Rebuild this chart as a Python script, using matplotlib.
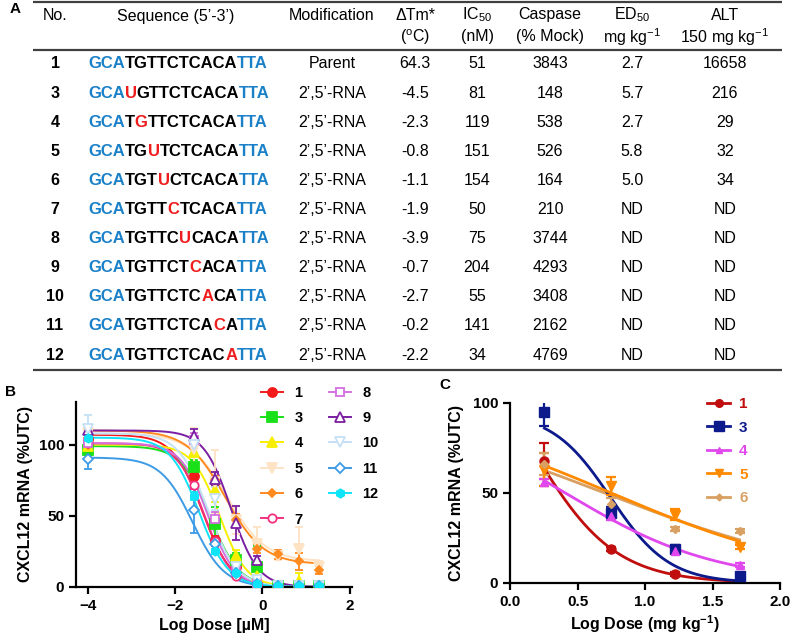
import numpy as np
import matplotlib
matplotlib.use('Agg')
import matplotlib.pyplot as plt
from matplotlib.lines import Line2D

plt.rcParams['font.family'] = ['Liberation Sans', 'DejaVu Sans']
plt.rcParams['mathtext.default'] = 'regular'

# ------------------------- Table A data -------------------------
compound_ids = ['1', '3', '4', '5', '6', '7', '8', '9', '10', '11', '12']
sequences = ['GCATGTTCTCACATTA', 'GCAUGTTCTCACATTA', 'GCATGTTCTCACATTA',
             'GCATGUTCTCACATTA', 'GCATGTUCTCACATTA', 'GCATGTTCTCACATTA',
             'GCATGTTCUCACATTA', 'GCATGTTCTCACATTA', 'GCATGTTCTCACATTA',
             'GCATGTTCTCACATTA', 'GCATGTTCTCACATTA']
mod_index = [None, 3, 4, 5, 6, 7, 8, 9, 10, 11, 12]
modifications = ['Parent'] + ['2\u2019,5\u2019-RNA'] * 10
delta_tm = ['64.3', '-4.5', '-2.3', '-0.8', '-1.1', '-1.9', '-3.9', '-0.7', '-2.7', '-0.2', '-2.2']
ic50 = ['51', '81', '119', '151', '154', '50', '75', '204', '55', '141', '34']
caspase = ['3843', '148', '538', '526', '164', '210', '3744', '4293', '3408', '2162', '4769']
ed50 = ['2.7', '5.7', '2.7', '5.8', '5.0', 'ND', 'ND', 'ND', 'ND', 'ND', 'ND']
alt = ['16658', '216', '29', '32', '34', 'ND', 'ND', 'ND', 'ND', 'ND', 'ND']
headers_1 = ['No.', 'Sequence (5\u2019-3\u2019)', 'Modification', '\u0394Tm*', 'IC$_{50}$',
             'Caspase', 'ED$_{50}$', 'ALT']
headers_2 = ['', '', '', '($^{o}$C)', '(nM)', '(% Mock)', 'mg kg$^{-1}$', '150 mg kg$^{-1}$']

# ------------------------- Panel B data -------------------------
b_labels = ['1', '3', '4', '5', '6', '7', '8', '9', '10', '11', '12']
b_dose = [-4.0, -1.56, -1.08, -0.60, -0.13, 0.35, 0.83, 1.30]
b1 = [104, 78, 33, 14, 2, 1, 1, 1]
b3 = [96, 84, 44, 19, 14, 1, 1, 1]
b4 = [99, 95, 68, 22, 8, 1, 4, 1]
b5 = [108, 97, 74, 47, 30, 22, 27, 14]
b6 = [100, 103, 75, 47, 27, 23, 18, 12]
b7 = [101, 72, 32, 8, 2, 1, 1, 1]
b8 = [101, 103, 48, 11, 3, 1, 1, 1]
b9 = [110, 106, 76, 45, 19, 1, 1, 1]
b10 = [111, 100, 62, 14, 5, 1, 1, 1]
b11 = [90, 54, 30, 10, 2, 1, 1, 1]
b12 = [105, 64, 25, 10, 2, 1, 1, 1]
b1_err = [3, 3, 3, 3, 1, 1, 1, 1]
b3_err = [3, 5, 12, 5, 15, 1, 1, 1]
b4_err = [3, 8, 8, 4, 4, 1, 6, 1]
b5_err = [5, 15, 22, 10, 12, 3, 15, 4]
b6_err = [3, 3, 3, 4, 3, 3, 6, 3]
b7_err = [3, 3, 3, 2, 1, 1, 1, 1]
b8_err = [3, 5, 5, 3, 1, 1, 1, 1]
b9_err = [3, 5, 5, 12, 3, 1, 1, 1]
b10_err = [10, 5, 8, 5, 3, 1, 1, 1]
b11_err = [7, 16, 4, 3, 1, 1, 1, 1]
b12_err = [3, 3, 2, 2, 1, 1, 1, 1]
# fitted 4-parameter logistic parameters (top, bottom, log mid, hill)
b_top = [107, 99, 100, 108, 110, 101, 101, 110, 108, 91, 105]
b_bottom = [0, 0, 0, 18, 16, 0, 0, 0, 0, 0, 0]
b_mid = [-1.38, -1.2, -0.98, -0.8, -0.85, -1.33, -1.25, -0.72, -1.25, -1.6, -1.45]
b_hill = [1.3, 1.3, 1.4, 1.0, 1.0, 1.4, 1.4, 1.4, 1.3, 1.2, 1.3]

# ------------------------- Panel C data -------------------------
c_labels = ['1', '3', '4', '5', '6']
c_dose = [0.255, 0.748, 1.22, 1.70]
c1 = [68, 19, 5, 4]
c3 = [95, 39, 19, 4]
c4 = [56, 37, 18, 10]
c5 = [63, 54, 38, 20]
c6 = [66, 44, 30, 29]
c1_err = [10, 1, 1, 1]
c3_err = [8, 3, 2, 1]
c4_err = [2, 2, 2, 1]
c5_err = [9, 5, 3, 1]
c6_err = [6, 3, 1, 1]
c_top = [150, 95, 100, 100, 100]
c_bottom = [0, 0, 0, 0, 0]
c_mid = [0.16, 0.745, 0.41, 0.75, 0.70]
c_hill = [1.42, 2.0, 0.77, 0.55, 0.5]

# ------------------------- styles -------------------------
W, H = 791, 639
fig = plt.figure(figsize=(W / 100, H / 100), dpi=100)

tab = fig.add_axes([0, 0, 1, 1])
tab.set_xlim(0, W)
tab.set_ylim(H, 0)
tab.axis('off')

BLUE = '#1a80c8'
RED = '#ee1c1c'
TFS = 11.5

# rules
for yy in (1.5, 50, 370):
    tab.plot([33, 782], [yy, yy], color='#404040', lw=1.6, solid_capstyle='butt')

col_x = [55, 176, 332, 415, 477, 550, 632, 725]
for cx, h1, h2 in zip(col_x, headers_1, headers_2):
    if h2:
        tab.text(cx, 15, h1, ha='center', va='center', fontsize=TFS)
        tab.text(cx, 37, h2, ha='center', va='center', fontsize=TFS)
    else:
        tab.text(cx, 16, h1, ha='center', va='center', fontsize=TFS)
tab.text(15, 9, 'A', ha='center', va='center', fontsize=11, fontweight='bold')

row_y0, row_dy = 64, 29.1


def seq_segments(seq, red):
    segs = []
    for i, ch in enumerate(seq):
        if red is not None and i == red:
            c = RED
        elif i < 3 or i >= len(seq) - 3:
            c = BLUE
        else:
            c = 'black'
        if segs and segs[-1][1] == c:
            segs[-1][0] += ch
        else:
            segs.append([ch, c])
    return segs


for r, cid in enumerate(compound_ids):
    y = row_y0 + r * row_dy
    tab.text(col_x[0], y, cid, ha='center', va='center', fontsize=TFS, fontweight='bold')
    segs = seq_segments(sequences[r], mod_index[r])
    t = tab.text(88, y, segs[0][0], color=segs[0][1], ha='left', va='center',
                 fontsize=12, fontweight='bold')
    for s, c in segs[1:]:
        t = tab.annotate(s, xy=(1, 0), xycoords=t, color=c, ha='left', va='bottom',
                         fontsize=12, fontweight='bold')
    for cx, val in zip(col_x[2:], [modifications[r], delta_tm[r], ic50[r], caspase[r],
                                   ed50[r], alt[r]]):
        tab.text(cx, y, val, ha='center', va='center', fontsize=TFS)


def style_axes(ax):
    for s in ('top', 'right'):
        ax.spines[s].set_visible(False)
    for s in ('left', 'bottom'):
        ax.spines[s].set_linewidth(1.6)
    ax.tick_params(width=1.6, length=5, labelsize=11)
    for lab in ax.get_xticklabels() + ax.get_yticklabels():
        lab.set_fontweight('bold')


def four_pl(x, top, bottom, mid, hill):
    return bottom + (top - bottom) / (1 + 10 ** ((x - mid) * hill))


# ------------------------- Panel B -------------------------
axB = fig.add_axes([76 / W, (H - 587) / H, 276 / W, 185 / H])
b_means = [b1, b3, b4, b5, b6, b7, b8, b9, b10, b11, b12]
b_errs = [b1_err, b3_err, b4_err, b5_err, b6_err, b7_err, b8_err, b9_err, b10_err, b11_err, b12_err]
b_colors = ['#f51a1a', '#19e019', '#f7ef00', '#fde2c4', '#ff8a1e', '#f2307e', '#d36fe0',
            '#7b1fa2', '#c4e0f6', '#3d9be6', '#10e4f8']
b_markers = ['o', 's', '^', 'v', 'D', 'o', 's', '^', 'v', 'D', 'h']
b_ms = [6.5, 7, 6.5, 6.5, 4, 6, 6, 6.5, 6.5, 5, 6]
b_open = [False, False, False, False, False, True, True, True, True, True, False]

xs = np.linspace(b_dose[0], b_dose[-1], 400)
handles_b = []
for i in range(len(b_labels)):
    col = b_colors[i]
    fc = 'white' if b_open[i] else col
    axB.plot(xs, four_pl(xs, b_top[i], b_bottom[i], b_mid[i], b_hill[i]), color=col, lw=1.4, zorder=2)
    axB.errorbar(b_dose, b_means[i], yerr=b_errs[i], fmt=b_markers[i], color=col, mfc=fc,
                 mec=col, mew=1.3, ms=b_ms[i], capsize=3, elinewidth=1.3, capthick=1.3, zorder=3)
    handles_b.append(Line2D([], [], color=col, lw=1.4, marker=b_markers[i], mfc=fc, mec=col,
                            mew=1.3, ms=b_ms[i]))
axB.set_xlim(-4.27, 2.05)
axB.set_ylim(0, 130)
axB.set_xticks([-4, -2, 0, 2])
axB.set_yticks([0, 50, 100])
style_axes(axB)
axB.set_xlabel('Log Dose [\u00b5M]', fontsize=11.5, fontweight='bold', labelpad=4)
axB.set_ylabel('CXCL12 mRNA (%UTC)', fontsize=11.5, fontweight='bold', labelpad=4)
legB = axB.legend(handles_b, b_labels, ncol=2, loc='upper left', bbox_to_anchor=(0.67, 1.088),
                  frameon=False, borderpad=0, borderaxespad=0, handlelength=1.5,
                  handletextpad=0.8, columnspacing=1.8, labelspacing=0.78,
                  prop={'weight': 'bold', 'size': 10.5})
fig.text(5 / W, 1 - 392 / H, 'B', fontsize=11, fontweight='bold', ha='left', va='center')

# ------------------------- Panel C -------------------------
axC = fig.add_axes([510 / W, (H - 583) / H, 270 / W, 180 / H])
c_means = [c1, c3, c4, c5, c6]
c_errs = [c1_err, c3_err, c4_err, c5_err, c6_err]
c_colors = ['#c00d0d', '#0c1a8c', '#e048ee', '#ff8a00', '#d8a062']
c_markers = ['o', 's', '^', 'v', 'D']
c_ms = [6.5, 7.5, 6, 7, 4.5]
xc = np.linspace(c_dose[0], c_dose[-1], 300)
handles_c = []
for i in range(len(c_labels)):
    col = c_colors[i]
    axC.plot(xc, four_pl(xc, c_top[i], c_bottom[i], c_mid[i], c_hill[i]), color=col, lw=2.0,
             zorder=2 if i != 4 else 1.5)
    axC.errorbar(c_dose, c_means[i], yerr=c_errs[i], fmt=c_markers[i], color=col, mfc=col,
                 mec=col, ms=c_ms[i], capsize=3.5, elinewidth=1.6, capthick=1.6, zorder=3)
    handles_c.append(Line2D([], [], color=col, lw=2.0, marker=c_markers[i], ms=c_ms[i] - 1))
axC.set_xlim(0, 2.0)
axC.set_ylim(0, 100)
axC.set_xticks([0.0, 0.5, 1.0, 1.5, 2.0])
axC.set_xticklabels(['0.0', '0.5', '1.0', '1.5', '2.0'])
axC.set_yticks([0, 50, 100])
style_axes(axC)
axC.set_xlabel('Log Dose (mg kg$^{-1}$)', fontsize=11.5, fontweight='bold', labelpad=3)
axC.set_ylabel('CXCL12 mRNA (%UTC)', fontsize=11.5, fontweight='bold', labelpad=6)
legC = axC.legend(handles_c, c_labels, loc='upper left', bbox_to_anchor=(0.73, 1.032),
                  frameon=False, borderpad=0, borderaxespad=0, handlelength=1.5,
                  handletextpad=0.6, labelspacing=0.62, prop={'weight': 'bold', 'size': 11})
for txt, col in zip(legC.get_texts(), c_colors):
    txt.set_color(col)
fig.text(445 / W, 1 - 385 / H, 'C', fontsize=11, fontweight='bold', ha='center', va='center')

fig.savefig('out.png', dpi=100)
